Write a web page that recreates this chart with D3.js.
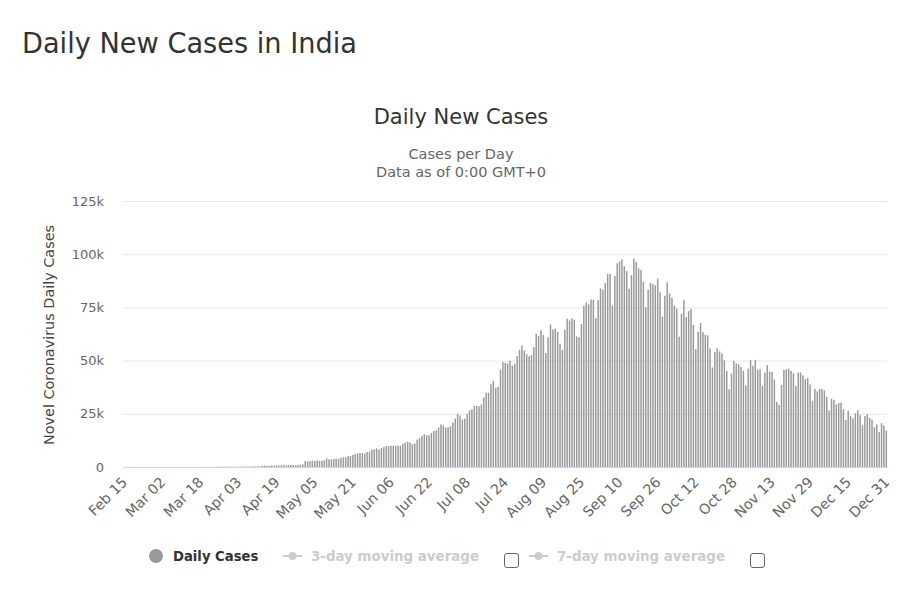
<!DOCTYPE html>
<html>
<head>
<meta charset="utf-8">
<script src="https://cdn.jsdelivr.net/npm/d3@7/dist/d3.min.js"></script>
<style>
  html, body { margin: 0; padding: 0; background: #fff; }
  svg { display: block; }
  text { font-family: "DejaVu Sans", sans-serif; }
</style>
</head>
<body>
<svg id="chart" width="908" height="599"></svg>
<script>
// ---- Data (daily new cases, India, 2020) ----
const startDate = "2020-02-15";
const casesFeb = [0,0,0,0,0,0,0,0,0,0,0,0,0,0,0];
const casesMar = [0,2,1,22,2,1,3,5,4,13,6,11,9,20,11,6,23,14,38,50,86,66,103,37,121,70,160,100,187,92,150];
const casesApr = [150,180,200,220,230,220,250,240,260,280,270,300,550,700,520,620,720,600,800,700,900,820,700,900,1000,850,900,1000,1100,1200];
const casesMay = [2800,2600,2700,3000,2800,3100,2900,2900,3113,4053,3607,3524,3763,3942,3787,4364,4550,4630,5147,5211,5688,6154,6367,6577,6535,6387,7066,7254,8105,8380,8789];
const casesJun = [8171,8909,9304,9851,9887,9971,9983,9987,9985,9996,10956,11458,11929,11502,10667,10974,12881,13586,14516,15413,14821,14933,15968,16922,17296,18552,19906,19459,18522,18653];
const casesJul = [19148,20903,22771,24850,24248,22252,22752,24879,26506,27114,28637,28701,28498,29429,32695,34956,34884,38902,40425,37148,37724,45720,49310,48916,48661,49931,47704,48513,52123,55079,57118];
const casesAug = [54735,52972,52050,52509,56282,62538,61537,64399,62064,53601,60963,66999,64553,65002,63490,57981,55079,64531,69652,68898,69878,69239,61408,60975,67151,75760,77266,76472,78761,78512,69921];
const casesSep = [78357,83883,83341,86432,90632,90802,75809,89706,95735,96551,97570,94372,92071,83809,90123,97894,96424,93337,92605,86961,75083,83347,86508,86052,85362,88600,82170,70589,80472,86821];
const casesOct = [81484,79476,75829,74442,61267,72049,78524,70496,73272,74383,66732,55342,63509,67708,63371,62212,61871,55722,46790,54044,55839,54366,53370,50129,45148,36470,43893,49881,48648,48268,46963];
const casesNov = [45231,38310,46253,50210,47638,50357,45674,45903,38073,44281,47905,44878,44684,41100,30548,29163,38617,45576,45882,46232,45209,44059,37975,44376,44489,43082,41322,41810,38772,31118];
const casesDec = [36604,35551,36595,36652,36011,32981,26567,32080,31521,29398,30006,30254,27071,22065,26382,24010,22890,25153,26624,24337,19556,23950,24712,23067,22272,18732,20021,16432,20550,19500,17000];

const yTicks = [0, 25000, 50000, 75000, 100000, 125000];
const yTickLabels = ["0", "25k", "50k", "75k", "100k", "125k"];
const titleText = "Daily New Cases in India";
const chartTitle = "Daily New Cases";
const subtitleLines = ["Cases per Day", "Data as of 0:00 GMT+0"];
const yAxisTitle = "Novel Coronavirus Daily Cases";
const legendItems = ["Daily Cases", "3-day moving average", "7-day moving average"];

// ---- Build categories ----
const values = [].concat(casesFeb, casesMar, casesApr, casesMay, casesJun, casesJul,
                         casesAug, casesSep, casesOct, casesNov, casesDec);
const fmt = d3.timeFormat("%b %d");
const t0 = d3.timeParse("%Y-%m-%d")(startDate);
const categories = values.map((v, i) => fmt(d3.timeDay.offset(t0, i)));
const data = values.map((v, i) => ({ cat: categories[i], value: v }));

// ---- Layout ----
const svg = d3.select("#chart");
const plot = { left: 123, right: 887.5, top: 201, bottom: 467 };

const x = d3.scaleBand().domain(categories).range([plot.left, plot.right]).paddingInner(0.38).paddingOuter(0.19);
const y = d3.scaleLinear().domain([0, 125000]).range([plot.bottom, plot.top]);

// Page title
svg.append("text")
  .attr("x", 22).attr("y", 53)
  .attr("font-size", 28.6).attr("fill", "#333")
  .attr("textLength", 335).attr("lengthAdjust", "spacingAndGlyphs")
  .text(titleText);

// Chart title
svg.append("text")
  .attr("x", 461).attr("y", 124)
  .attr("text-anchor", "middle")
  .attr("font-size", 21).attr("fill", "#333")
  .text(chartTitle);

subtitleLines.forEach((s, i) => {
  svg.append("text")
    .attr("x", 461).attr("y", 159 + i * 18)
    .attr("text-anchor", "middle")
    .attr("font-size", 14.5).attr("fill", "#666")
    .text(s);
});

// Gridlines + y labels
const yAxisG = svg.append("g").attr("transform", `translate(${plot.left},0)`)
  .call(d3.axisLeft(y).tickValues(yTicks).tickSize(-(plot.right - plot.left)).tickFormat((d, i) => yTickLabels[i]));
yAxisG.select(".domain").remove();
yAxisG.selectAll(".tick line").attr("stroke", "#e6e6e6");
yAxisG.selectAll(".tick text")
  .attr("x", -19).attr("font-size", 13).attr("fill", "#666")
  .attr("font-family", "DejaVu Sans, sans-serif");

// Y axis title
svg.append("text")
  .attr("transform", `translate(54,335) rotate(-90)`)
  .attr("text-anchor", "middle")
  .attr("font-size", 14.4).attr("fill", "#444")
  .text(yAxisTitle);

// Bars
svg.append("g").selectAll("rect").data(data).join("rect")
  .attr("x", d => x(d.cat))
  .attr("width", x.bandwidth())
  .attr("y", d => y(d.value))
  .attr("height", d => y(0) - y(d.value))
  .attr("fill", "#9a9a9a");

// X axis
const tickCats = categories.filter((c, i) => i % 16 === 0);
const xAxisG = svg.append("g").attr("transform", `translate(0,${plot.bottom})`)
  .call(d3.axisBottom(x).tickValues(tickCats).tickSize(0));
xAxisG.select(".domain").attr("stroke", "#ccd6eb").attr("d", `M${plot.left},0.5H${plot.right}`);
xAxisG.selectAll(".tick text")
  .attr("font-size", 14.2).attr("fill", "#666")
  .attr("font-family", "DejaVu Sans, sans-serif")
  .attr("text-anchor", "end")
  .attr("y", 0).attr("dy", 0)
  .attr("transform", "translate(4,16) rotate(-45)");

// Legend
const lg = svg.append("g");
lg.append("circle").attr("cx", 156).attr("cy", 556).attr("r", 7).attr("fill", "#999");
lg.append("text").attr("x", 173).attr("y", 561).attr("font-size", 13.2).attr("font-weight", "bold")
  .attr("fill", "#333").text(legendItems[0]);

function seriesMarker(x0, cy, color) {
  lg.append("line").attr("x1", x0).attr("x2", x0 + 19).attr("y1", cy).attr("y2", cy)
    .attr("stroke", color).attr("stroke-width", 2);
  lg.append("circle").attr("cx", x0 + 9.5).attr("cy", cy).attr("r", 4).attr("fill", color);
}
seriesMarker(283, 556, "#cccccc");
lg.append("text").attr("x", 311).attr("y", 561).attr("font-size", 13.2).attr("font-weight", "bold")
  .attr("fill", "#cccccc").attr("textLength", 168).attr("lengthAdjust", "spacingAndGlyphs").text(legendItems[1]);
lg.append("rect").attr("x", 504.5).attr("y", 553.5).attr("width", 14).attr("height", 14).attr("rx", 2.5)
  .attr("fill", "#fff").attr("stroke", "#666");

seriesMarker(529, 556, "#cccccc");
lg.append("text").attr("x", 557).attr("y", 561).attr("font-size", 13.2).attr("font-weight", "bold")
  .attr("fill", "#cccccc").attr("textLength", 168).attr("lengthAdjust", "spacingAndGlyphs").text(legendItems[2]);
lg.append("rect").attr("x", 750.5).attr("y", 553.5).attr("width", 14).attr("height", 14).attr("rx", 2.5)
  .attr("fill", "#fff").attr("stroke", "#666");
</script>
</body>
</html>
